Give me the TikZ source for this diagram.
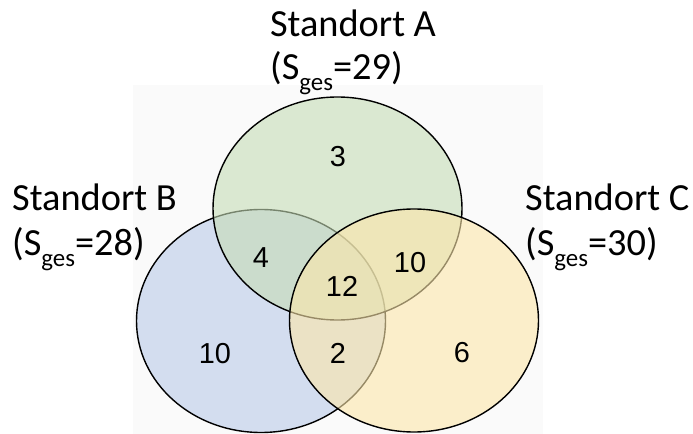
\documentclass[tikz,border=0pt]{standalone}
\usepackage{fontspec}
\setmainfont{Carlito}
\newfontfamily\numfont{Liberation Sans}
\definecolor{setA}{RGB}{198,220,182}
\definecolor{setB}{RGB}{185,202,233}
\definecolor{setC}{RGB}{252,230,170}
\definecolor{panel}{RGB}{250,250,250}
\newcommand{\sges}{S\raisebox{-0.28em}{\fontsize{25}{25}\selectfont ges}}
\begin{document}
\begin{tikzpicture}[x=1bp,y=-1bp,
  setshape/.style={draw=black,line width=1.4bp,fill opacity=0.6},
  title/.style={font=\fontsize{38.5}{43}\selectfont,inner sep=0pt},
  count/.style={font=\numfont\fontsize{29}{30}\selectfont,inner sep=0pt}]
\useasboundingbox (0,0) rectangle (693,434);
\fill[white] (0,0) rectangle (693,434);
\fill[panel] (133,85) rectangle (543,434);
% the three sets, drawn B, A, C so later fills soften earlier outlines
\filldraw[setshape,fill=setB] (261,321) ellipse [x radius=124.5,y radius=111.5];
\filldraw[setshape,fill=setA] (337.5,208.5) ellipse [x radius=124.5,y radius=111.5];
\filldraw[setshape,fill=setC] (414,320.5) ellipse [x radius=124.5,y radius=111.5];
% set titles
\node[title,anchor=base] (tA) at (353,37) {Standort A};
\node[title,anchor=base west] (sA) at (270,80) {(\sges=29)};
\node[title,anchor=base west] (tB) at (12,211) {Standort B};
\node[title,anchor=base west] (sB) at (12,256) {(\sges=28)};
\node[title,anchor=base west] (tC) at (525,211) {Standort C};
\node[title,anchor=base west] (sC) at (525,256) {(\sges=30)};
% region counts
\node[count] (nA) at (338,157) {3};
\node[count] (nAB) at (261,258) {4};
\node[count] (nABC) at (342,286) {12};
\node[count] (nAC) at (410,263) {10};
\node[count] (nB) at (215,354) {10};
\node[count] (nBC) at (338,353) {2};
\node[count] (nC) at (462,353) {6};
\end{tikzpicture}
\end{document}
